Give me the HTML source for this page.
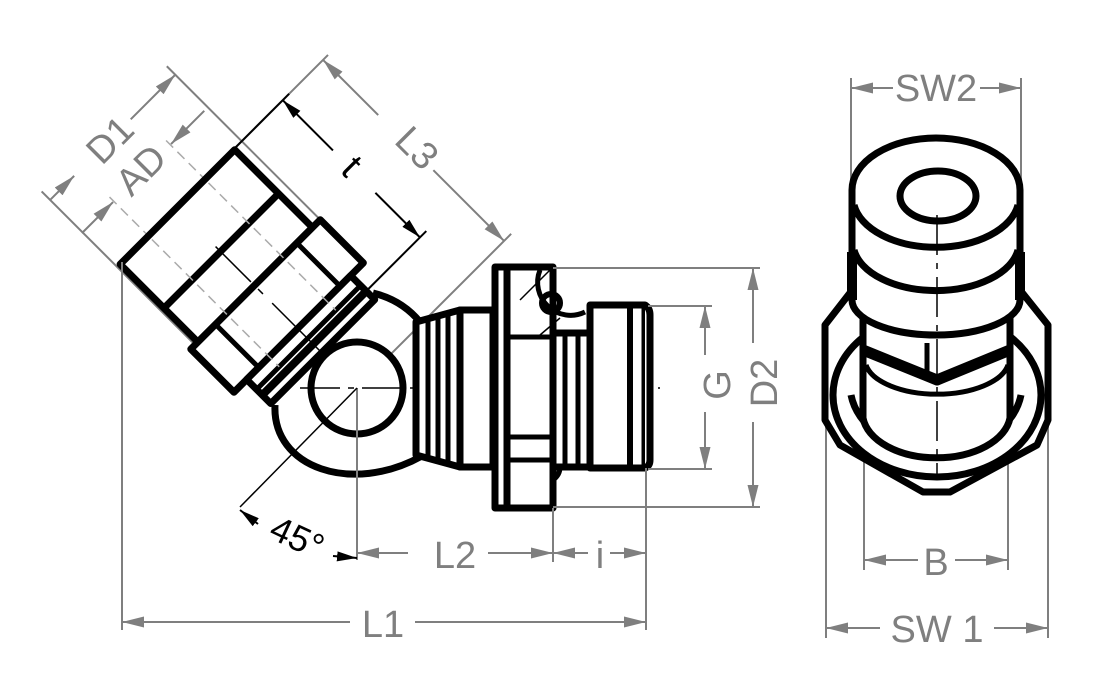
<!DOCTYPE html>
<html><head><meta charset="utf-8"><style>html,body{margin:0;padding:0;background:#fff}svg{display:block}</style></head>
<body>
<svg width="1094" height="700" viewBox="0 0 1094 700" xmlns="http://www.w3.org/2000/svg" font-family="Liberation Sans, Arial, sans-serif">
<defs>
<marker id="a" viewBox="0 0 20 10" refX="20" refY="5" markerWidth="22" markerHeight="11" markerUnits="userSpaceOnUse" orient="auto-start-reverse"><path d="M0,0 L20,5 L0,10 z" fill="#7f7f7f"/></marker>
<marker id="k" viewBox="0 0 20 10" refX="20" refY="5" markerWidth="20" markerHeight="10" markerUnits="userSpaceOnUse" orient="auto-start-reverse"><path d="M0,0 L20,5 L0,10 z" fill="#000"/></marker>
</defs>
<rect width="1094" height="700" fill="#fff"/>

<g transform="translate(357,388) rotate(45)">
  <g stroke="#7f7f7f" stroke-width="2" fill="none">
    <line x1="-362" y1="84" x2="-140" y2="84"/>
    <line x1="-362" y1="-93" x2="-145" y2="-93"/>
    <line x1="-256" y1="-215" x2="-256" y2="-80"/>
    <line x1="0" y1="-218" x2="0" y2="-46"/>
    <line x1="-350" y1="84" x2="-350" y2="50" marker-end="url(#a)"/>
    <line x1="-350" y1="-30" x2="-350" y2="-93" marker-end="url(#a)"/>
    <line x1="-256" y1="-208" x2="-178" y2="-208" marker-start="url(#a)"/>
    <line x1="-100" y1="-208" x2="0" y2="-208" marker-end="url(#a)"/>
    <line x1="-304" y1="85" x2="-304" y2="41" marker-end="url(#a)"/>
    <line x1="-304" y1="-88" x2="-304" y2="-41" marker-end="url(#a)"/>
  </g>
  <g stroke="#aaa" stroke-width="1.5" stroke-dasharray="10,6" fill="none">
    <line x1="-310" y1="40" x2="-255" y2="40"/>
    <line x1="-310" y1="-40" x2="-255" y2="-40"/>
  </g>
  <g stroke="#000" stroke-width="2" fill="none">
    <line x1="-256" y1="-160" x2="-256" y2="-82"/>
    <line x1="-62" y1="-160" x2="-62" y2="-75"/>
    <line x1="-256" y1="-151" x2="-185" y2="-151" marker-start="url(#k)"/>
    <line x1="-125" y1="-151" x2="-62" y2="-151" marker-end="url(#k)"/>
  </g>
  <g stroke="#000" stroke-width="7" fill="#fff" stroke-linejoin="round">
    <rect x="-255" y="-82" width="110" height="162"/>
    <line x1="-193" y1="-82" x2="-193" y2="80"/>
    <rect x="-145" y="-93" width="61" height="183"/>
    <rect x="-84" y="-75" width="34" height="147"/>
  </g>
  <g stroke="#000" stroke-width="5" fill="none">
    <line x1="-145" y1="-60" x2="-84" y2="-60"/>
    <line x1="-145" y1="55" x2="-84" y2="55"/>
    <line x1="-70" y1="-75" x2="-70" y2="72"/>
    <line x1="-62" y1="-75" x2="-62" y2="72" stroke-width="8"/>
  </g>
  <g stroke="#aaa" stroke-width="1.5" stroke-dasharray="10,6" fill="none">
    <line x1="-250" y1="40" x2="-70" y2="40"/>
    <line x1="-250" y1="-40" x2="-70" y2="-40"/>
  </g>
  <g stroke="#000" stroke-width="1.5">
    <line x1="-200" y1="0" x2="-150" y2="0"/>
    <line x1="-140" y1="0" x2="-133" y2="0"/>
    <line x1="-120" y1="0" x2="0" y2="0"/>
  </g>
</g>

<g stroke="#000" stroke-width="7" fill="none">
  <path d="M275,405 C272,468 352,495 422,456"/>
  <path d="M373,293 Q402,300 420,322"/>
  <circle cx="357" cy="388" r="46" fill="#fff"/>
</g>
<g stroke="#7f7f7f" stroke-width="2"><line x1="357" y1="388" x2="357" y2="560"/></g>
<g stroke="#000" stroke-width="1.5"><line x1="300" y1="388" x2="660" y2="388" stroke-dasharray="40,8,6,8"/><line x1="357" y1="388" x2="240" y2="507"/></g>

<g stroke="#000" stroke-width="7" fill="#fff" stroke-linejoin="round">
  <path d="M416,322 L460,310 L460,467 L416,455 Z"/>
  <rect x="460" y="310" width="33" height="157"/>
  <rect x="590" y="305" width="55" height="163"/>
  <path d="M645,305 Q650,308 650,315 L650,460 Q650,466 645,468"/>
  <rect x="553" y="333" width="37" height="134"/>
  <rect x="495" y="267" width="58" height="241"/>
</g>
<g stroke="#000" stroke-width="5" fill="none">
  <line x1="428" y1="318" x2="428" y2="458"/>
  <line x1="438" y1="316" x2="438" y2="461"/>
  <line x1="448" y1="314" x2="448" y2="463"/>
  <line x1="507" y1="267" x2="507" y2="508" stroke-width="7"/>
  <line x1="507" y1="337" x2="553" y2="337"/>
  <line x1="507" y1="437" x2="553" y2="437"/>
  <line x1="507" y1="460" x2="553" y2="460"/>
  <line x1="565" y1="333" x2="565" y2="467"/>
  <line x1="578" y1="333" x2="578" y2="467"/>
  <line x1="630" y1="305" x2="630" y2="468" stroke-width="6"/>
  <path d="M553,480 Q560,475 560,467"/>
  <path d="M540,270 A33,33 0 0 0 585,312"/>
  <circle cx="551" cy="303" r="9" stroke-width="6"/>
</g>
<line x1="550" y1="270" x2="520" y2="300" stroke="#000" stroke-width="1.5"/>
<line x1="560" y1="318" x2="540" y2="335" stroke="#000" stroke-width="1.5"/>

<g stroke="#7f7f7f" stroke-width="2" fill="none">
  <line x1="553" y1="268" x2="760" y2="268"/>
  <line x1="553" y1="507" x2="760" y2="507"/>
  <line x1="648" y1="306" x2="712" y2="306"/>
  <line x1="648" y1="469" x2="712" y2="469"/>
  <line x1="705" y1="306" x2="705" y2="355" marker-start="url(#a)"/>
  <line x1="705" y1="412" x2="705" y2="469" marker-end="url(#a)"/>
  <line x1="753" y1="268" x2="753" y2="343" marker-start="url(#a)"/>
  <line x1="753" y1="422" x2="753" y2="507" marker-end="url(#a)"/>
  <line x1="122" y1="262" x2="122" y2="630"/>
  <line x1="646" y1="468" x2="646" y2="630"/>
  <line x1="553" y1="508" x2="553" y2="562"/>
  <line x1="122" y1="622" x2="350" y2="622" marker-start="url(#a)"/>
  <line x1="415" y1="622" x2="646" y2="622" marker-end="url(#a)"/>
  <line x1="357" y1="553" x2="408" y2="553" marker-start="url(#a)"/>
  <line x1="488" y1="553" x2="553" y2="553" marker-end="url(#a)"/>
  <line x1="553" y1="553" x2="588" y2="553" marker-start="url(#a)"/>
  <line x1="610" y1="553" x2="646" y2="553" marker-end="url(#a)"/>
</g>
<g stroke="#000" stroke-width="2" fill="none">
  <line x1="258" y1="524" x2="240" y2="510" marker-end="url(#k)"/>
  <line x1="333" y1="556" x2="357" y2="558" marker-end="url(#k)"/>
</g>

<g fill="#7f7f7f" font-size="38" text-anchor="middle">
  <text x="0" y="0" transform="translate(112,142) rotate(-45)" dominant-baseline="middle">D1</text>
  <text x="0" y="0" transform="translate(143,172) rotate(-45)" dominant-baseline="middle">AD</text>
  <text x="0" y="0" transform="translate(415,150) rotate(45)" dominant-baseline="middle">L3</text>
  <text x="0" y="0" transform="translate(720,385) rotate(-90)" dominant-baseline="middle">G</text>
  <text x="0" y="0" transform="translate(767,383) rotate(-90)" dominant-baseline="middle">D2</text>
  <text x="455" y="568">L2</text>
  <text x="600" y="568">i</text>
  <text x="383" y="637">L1</text>
  <text x="936" y="101">SW2</text>
  <text x="936" y="575">B</text>
  <text x="937" y="642">SW 1</text>
</g>
<text x="0" y="0" transform="translate(350,168) rotate(45)" font-size="38" fill="#000" text-anchor="middle" dominant-baseline="middle">t</text>
<text x="0" y="0" transform="translate(296,540) rotate(25)" font-size="36" fill="#000" text-anchor="middle" dominant-baseline="middle">45°</text>

<g stroke="#7f7f7f" stroke-width="2" fill="none">
  <line x1="851" y1="78" x2="851" y2="190"/>
  <line x1="1021" y1="78" x2="1021" y2="190"/>
  <line x1="851" y1="88" x2="893" y2="88" marker-start="url(#a)"/>
  <line x1="980" y1="88" x2="1021" y2="88" marker-end="url(#a)"/>
  <line x1="864" y1="418" x2="864" y2="570"/>
  <line x1="1008" y1="418" x2="1008" y2="570"/>
  <line x1="864" y1="560" x2="918" y2="560" marker-start="url(#a)"/>
  <line x1="955" y1="560" x2="1008" y2="560" marker-end="url(#a)"/>
  <line x1="826" y1="420" x2="826" y2="638"/>
  <line x1="1048" y1="420" x2="1048" y2="638"/>
  <line x1="826" y1="628" x2="880" y2="628" marker-start="url(#a)"/>
  <line x1="994" y1="628" x2="1048" y2="628" marker-end="url(#a)"/>
</g>
<g stroke="#000" stroke-width="7" fill="none" stroke-linejoin="round">
  <path d="M860,280 L825,325 L825,420 L840,445 L923,492 L950,492 L1037,445 L1048,420 L1048,325 L1012,280 Z" fill="#fff"/>
  <ellipse cx="937" cy="395" rx="104" ry="82"/>
  <path d="M851,395 A86,67 0 0 0 1021,395"/>
  <!-- inner nut -->
  <path d="M863,317 L863,418 A74,45 0 0 0 1010,418 L1010,315 Z" fill="#fff"/>
  <path d="M863,317 L920,333 L952,333 L1010,315"/>
  <line x1="927" y1="343" x2="927" y2="372" stroke-width="5"/>
  <path d="M863,350 L937,380 L1010,350" stroke-width="11"/>
  <path d="M866,365 A72,35 0 0 0 1008,365" stroke-width="5"/>
  <!-- top cylinder -->
  <path d="M852,190 A84,52 0 0 1 1020,190 L1020,300 A84,35 0 0 1 852,300 Z" fill="#fff"/>
  <path d="M854,205 A83,50 0 0 0 1018,205"/>
  <path d="M854,250 A83,48 0 0 0 1018,250"/>
  <line x1="852" y1="252" x2="852" y2="300" stroke-width="10"/>
  <line x1="1020" y1="252" x2="1020" y2="300" stroke-width="10"/>
  <ellipse cx="938" cy="196" rx="38" ry="25"/>
</g>
<line x1="937" y1="215" x2="937" y2="480" stroke="#000" stroke-width="1.5" stroke-dasharray="40,8,6,8"/>
</svg>
</body></html>
